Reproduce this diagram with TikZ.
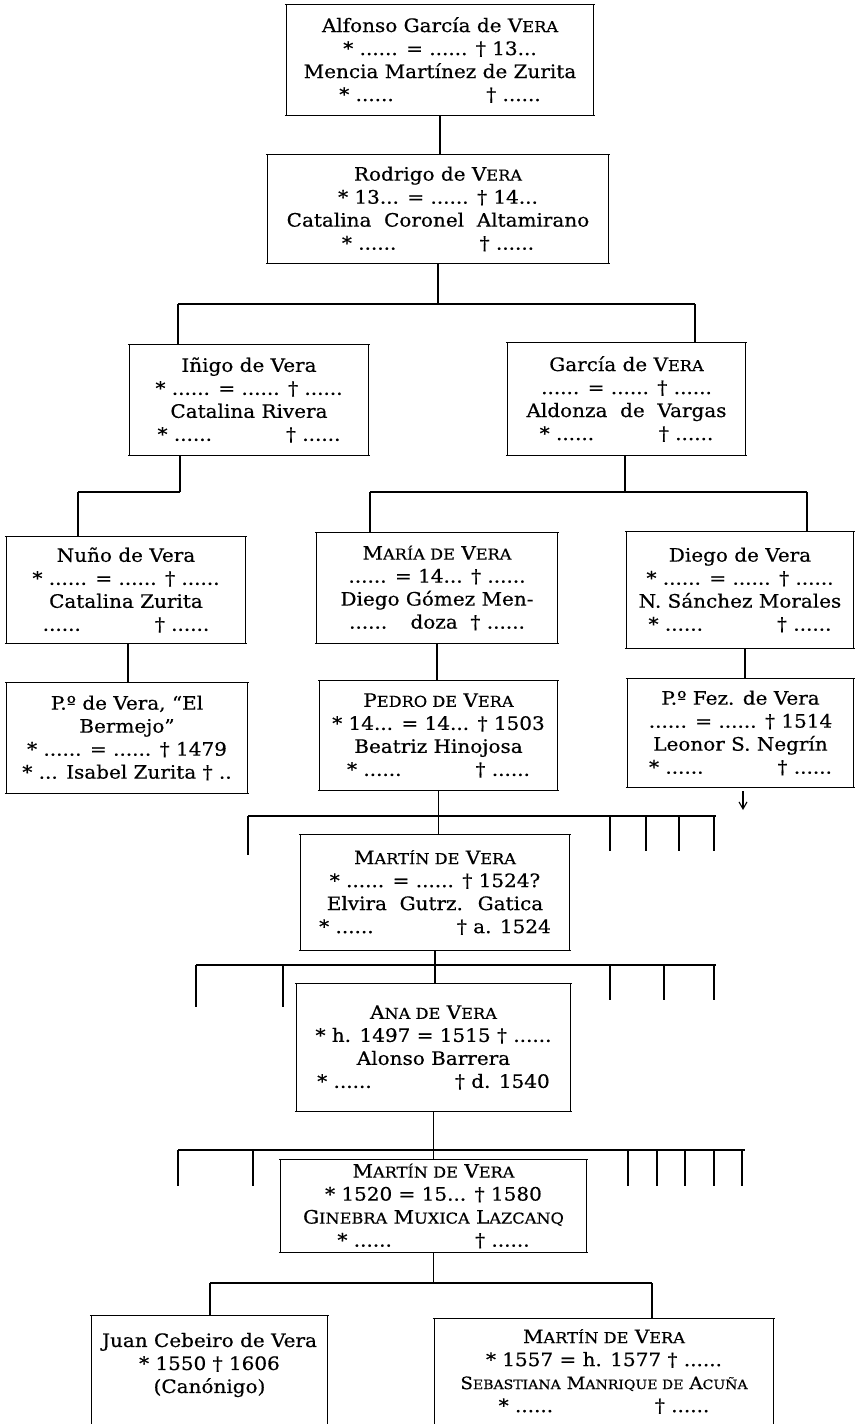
\documentclass[tikz,border=0pt]{standalone}
\usepackage{fontspec}
\setmainfont[FakeStretch=1.08,FakeBold=0.5]{DejaVu Serif}
\usetikzlibrary{arrows.meta}
\newcommand\sca[1]{{\fontsize{15pt}{23pt}\selectfont #1}}
\newcommand\scb[1]{{\fontsize{13pt}{23pt}\selectfont #1}}
\newcommand\dts{......}
\newcommand\famBox[6]{%
  \node[boxtxt, minimum width={#4-#2}, minimum height={#5-#3}] (#1) at ({(#2+#4)/2},{(#3+#5)/2}) {#6};
  \draw[edgeH] ([xshift=-2pt]#1.north west) -- ([xshift=2pt]#1.north east);
  \draw[edgeH] ([xshift=-2pt]#1.south west) -- ([xshift=2pt]#1.south east);
  \draw[edgeV] (#1.north west) -- (#1.south west);
  \draw[edgeV] (#1.north east) -- (#1.south east);
}
\newcommand\famBoxOpen[6]{%
  \node[boxtxt, minimum width={#4-#2}, minimum height={#5-#3}] (#1) at ({(#2+#4)/2},{(#3+#5)/2}) {#6};
  \draw[edgeH] ([xshift=-2pt]#1.north west) -- ([xshift=2pt]#1.north east);
  \draw[edgeV] (#1.north west) -- (#1.north west |- 0,1430);
  \draw[edgeV] (#1.north east) -- (#1.north east |- 0,1430);
}
\begin{document}
\begin{tikzpicture}[x=1pt,y=-1pt,
  boxtxt/.style={inner sep=0pt, align=center, font=\fontsize{18.5pt}{23pt}\selectfont},
  edgeH/.style={line width=1.3pt},
  edgeV/.style={line width=0.7pt},
  conn/.style={line width=1.1pt},
  bus/.style={line width=1.2pt}]
\useasboundingbox[fill=white] (0,0) rectangle (855,1424);

% ---------- boxes ----------
\famBox{A}{287}{5}{593}{115}{Alfonso García de V\sca{ERA}\\ * \dts{} = \dts{} † 13...\\ Mencia Martínez de Zurita\\ * \dts\hspace{5em}† \dts}
\famBox{R}{268}{155}{608}{263}{Rodrigo de V\sca{ERA}\\ * 13... = \dts{} † 14...\\ Catalina~ Coronel~ Altamirano\\ * \dts\hspace{4.5em}† \dts}
\famBox{I}{130}{345}{368}{455}{Iñigo de Vera\\ * \dts{} = \dts{} † \dts\\ Catalina Rivera\\ * \dts\hspace{4em}† \dts}
\famBox{G}{508}{343}{745}{455}{García de V\sca{ERA}\\ \dts{} = \dts{} † \dts\\ Aldonza~ de~ Vargas\\ * \dts\hspace{3.5em}† \dts}
\famBox{N}{7}{537}{245}{643}{Nuño de Vera\\ * \dts{} = \dts{} † \dts\\ Catalina Zurita\\ \dts\hspace{4em}† \dts}
\famBox{M}{317}{533}{557}{643}{M\sca{ARÍA DE} V\sca{ERA}\\ \dts{} = 14... † \dts\\ Diego Gómez Men-\\ \dts\hspace{0.8em} doza~ † \dts}
\famBox{D}{627}{532}{853}{648}{Diego de Vera\\ * \dts{} = \dts{} † \dts\\ N. Sánchez Morales\\ * \dts\hspace{4em}† \dts}
\famBox{PB}{7}{683}{247}{793}{P.º de Vera, “El\\ Bermejo”\\ * \dts{} = \dts{} † 1479\\ * ... Isabel Zurita † ..}
\famBox{P}{320}{681}{557}{790}{P\sca{EDRO DE} V\sca{ERA}\\ * 14... = 14... † 1503\\ Beatriz Hinojosa\\ * \dts\hspace{4em}† \dts}
\famBox{PF}{628}{679}{853}{787}{P.º Fez. de Vera\\ \dts{} = \dts{} † 1514\\ Leonor S. Negrín\\ * \dts\hspace{4em}† \dts}
\famBox{MA}{301}{835}{569}{950}{M\sca{ARTÍN DE} V\sca{ERA}\\ * \dts{} = \dts{} † 1524?\\ Elvira~ Gutrz.~ Gatica\\ * \dts\hspace{4.5em}† a. 1524}
\famBox{AN}{297}{984}{570}{1111}{A\sca{NA DE} V\sca{ERA}\\ * h. 1497 = 1515 † \dts\\ Alonso Barrera\\ * \dts\hspace{4.5em}† d. 1540}
\famBox{MB}{281}{1160}{586}{1252}{M\sca{ARTÍN DE} V\sca{ERA}\\ * 1520 = 15... † 1580\\ G\sca{INEBRA} M\sca{UXICA} L\sca{AZCANQ}\\ * \dts\hspace{4.5em}† \dts}
\famBoxOpen{J}{92}{1316}{327}{1414}{Juan Cebeiro de Vera\\ * 1550 † 1606\\ (Canónigo)}
\famBoxOpen{MC}{435}{1319}{773}{1424}{M\sca{ARTÍN DE} V\sca{ERA}\\ * 1557 = h. 1577 † \dts\\ {\fontsize{17pt}{23pt}\selectfont S\scb{EBASTIANA} M\scb{ANRIQUE DE} A\scb{CUÑA}}\\ * \dts\hspace{5.5em}† \dts}

% ---------- connectors ----------
\draw[conn] (A.south) -- (A.south |- R.north);

\coordinate (rL) at (178,304); \coordinate (rR) at (695,304);
\draw[conn] (R.south) -- (R.south |- rL);
\draw[bus] (rL) -- (rR);
\draw[conn] (rL) -- (rL |- I.north);
\draw[conn] (rR) -- (rR |- G.north);

\coordinate (iL) at (78,492); \coordinate (iR) at (180,492);
\draw[conn] (iR |- I.south) -- (iR);
\draw[bus] (iL) -- (iR);
\draw[conn] (iL) -- (iL |- N.north);

\coordinate (gL) at (370,492); \coordinate (gR) at (807,492); \coordinate (gC) at (625,492);
\draw[conn] (gC |- G.south) -- (gC);
\draw[bus] (gL) -- (gR);
\draw[conn] (gL) -- (gL |- M.north);
\draw[conn] (gR) -- (gR |- D.north);

\coordinate (nC) at (128,0);
\draw[conn] (nC |- N.south) -- (nC |- PB.north);
\draw[conn] (M.south) -- (M.south |- P.north);
\coordinate (dC) at (745,0);
\draw[conn] (dC |- D.south) -- (dC |- PF.north);
\coordinate (pfArr) at (743,810);
\draw[conn,-{Straight Barb[length=7pt,width=8pt]}] ([yshift=-4pt]pfArr |- PF.south) -- (pfArr);

% bus below Pedro
\coordinate (pL) at (248,816); \coordinate (pR) at (716,816);
\draw[conn] (P.south) -- (P.south |- MA.north);
\draw[bus] (pL) -- (pR);
\draw[conn] (pL) -- ++(0,39) coordinate (pS0);
\foreach \k/\x in {1/610,2/646,3/679,4/714}{
  \coordinate (pS\k) at (\x,816);
  \draw[conn] (pS\k) -- ++(0,35);
}

% bus below Martin
\coordinate (mL) at (196,965); \coordinate (mR) at (716,965);
\draw[conn] (MA.south) -- (MA.south |- AN.north);
\draw[bus] (mL) -- (mR);
\foreach \k/\x/\l in {1/196/42,2/283/42,3/610/35,4/664/35,5/714/35}{
  \coordinate (mS\k) at (\x,965);
  \draw[conn] (mS\k) -- ++(0,\l);
}

% bus below Ana
\coordinate (aL) at (178,1150); \coordinate (aR) at (745,1150);
\draw[conn] (AN.south) -- (AN.south |- MB.north);
\draw[bus] (aL) -- (aR);
\foreach \k/\x in {1/178,2/253,3/628,4/657,5/685,6/714,7/742}{
  \coordinate (aS\k) at (\x,1150);
  \draw[conn] (aS\k) -- ++(0,36);
}

% bus below Martin (2)
\coordinate (bL) at (210,1283); \coordinate (bR) at (652,1283);
\draw[conn] (MB.south) -- (MB.south |- bL);
\draw[bus] (bL) -- (bR);
\draw[conn] (bL) -- (bL |- J.north);
\draw[conn] (bR) -- (bR |- MC.north);
\end{tikzpicture}
\end{document}
